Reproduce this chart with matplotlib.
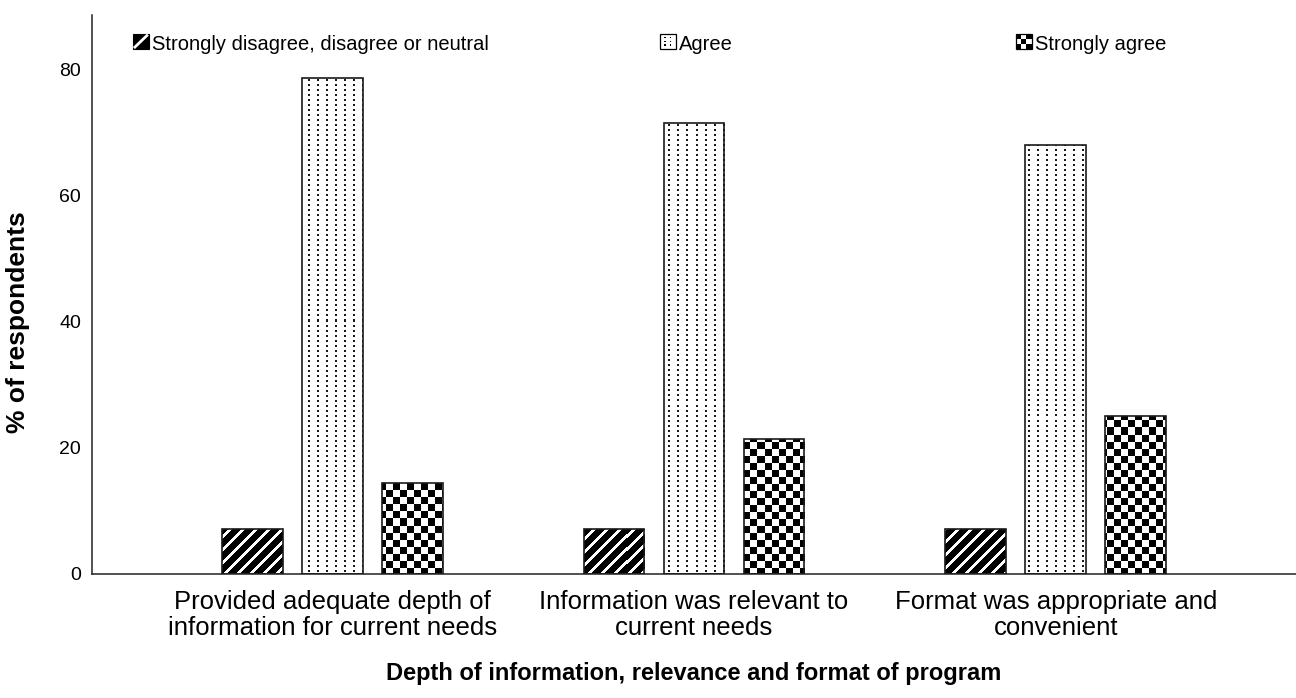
import numpy as np
import matplotlib
matplotlib.use("Agg")
import matplotlib.pyplot as plt
import matplotlib.patches as mpatches
from matplotlib.lines import Line2D

plt.rcParams['font.family'] = ['Liberation Sans', 'DejaVu Sans']

# ---------------- data ----------------
categories = ["Provided adequate depth of\ninformation for current needs",
              "Information was relevant to\ncurrent needs",
              "Format was appropriate and\nconvenient"]
series_names = ["Strongly disagree, disagree or neutral", "Agree", "Strongly agree"]
neutral = [7.1, 7.1, 7.1]
agree = [78.6, 71.4, 67.9]
strongly_agree = [14.3, 21.4, 25.0]
yticks = [0, 20, 40, 60, 80]
xlabel = "Depth of information, relevance and format of program"
ylabel = "% of respondents"

# ---------------- layout ----------------
W_PX, H_PX, DPI = 1296, 698, 100
fig = plt.figure(figsize=(W_PX / DPI, H_PX / DPI), dpi=DPI)
ax_left, ax_right = 92 / W_PX, 1.0
ax_bottom, ax_top = 1 - 573.5 / H_PX, 1 - 15 / H_PX
ax = fig.add_axes([ax_left, ax_bottom, ax_right - ax_left, ax_top - ax_bottom])

XLIM = (-0.664, 2.664)
YLIM = (0, 88.6)
x = np.arange(len(categories))
width = 0.168
step = 0.221

# textures in pixel units covering the axes
ax_w = int(round((ax_right - ax_left) * W_PX))
ax_h = int(round((ax_top - ax_bottom) * H_PX))
rr, cc = np.mgrid[0:ax_h, 0:ax_w]
tex_stripes = np.where(((cc + rr) % 13) < 4, 1.0, 0.0)
tex_dots = np.where(((cc % 9) < 2) & ((rr % 5) < 2), 0.1, 1.0)
tex_checker = np.where(((cc // 7 + rr // 7) % 2) == 0, 0.0, 1.0)

textures = [tex_stripes, tex_dots, tex_checker]
series = [neutral, agree, strongly_agree]
offsets = [-step, 0, step]

for vals, off, tex in zip(series, offsets, textures):
    bars = ax.bar(x + off, vals, width, facecolor='none', edgecolor='#1a1a1a',
                  linewidth=1.2, zorder=3)
    for b in bars:
        im = ax.imshow(tex, extent=(XLIM[0], XLIM[1], YLIM[0], YLIM[1]),
                       origin='upper', cmap='gray', vmin=0, vmax=1,
                       interpolation='nearest', aspect='auto', zorder=2)
        im.set_clip_path(b)

ax.set_xlim(*XLIM)
ax.set_ylim(*YLIM)

# axes styling
for s in ['top', 'right']:
    ax.spines[s].set_visible(False)
for s in ['left', 'bottom']:
    ax.spines[s].set_color('#222222')
    ax.spines[s].set_linewidth(1.1)

ax.set_yticks(yticks)
ax.set_yticklabels([str(v) for v in yticks], fontsize=14)
ax.set_xticks(x)
ax.set_xticklabels(categories, fontsize=18.5, linespacing=1.1)
ax.tick_params(axis='y', length=0, pad=8)
ax.tick_params(axis='x', length=0, pad=12)

ax.set_xlabel(xlabel, fontsize=17, fontweight='bold', labelpad=16)
ax.set_ylabel(ylabel, fontsize=19, fontweight='bold')
ax.yaxis.set_label_coords(-0.0515, 0.45)

# ---------------- legend ----------------
class IconHandler:
    def __init__(self, kind):
        self.kind = kind

    def legend_artist(self, legend, orig_handle, fontsize, handlebox):
        x0, y0 = handlebox.xdescent, handlebox.ydescent
        w, h = handlebox.width, handlebox.height
        tr = handlebox.get_transform()
        arts = []
        if self.kind == 'stripes':
            arts.append(mpatches.Rectangle((x0, y0), w, h, facecolor='black',
                                           edgecolor='black', lw=0.8, transform=tr))
            arts.append(Line2D([x0 + 0.12 * w, x0 + 0.88 * w],
                               [y0 + 0.12 * h, y0 + 0.88 * h],
                               color='white', lw=2.0, transform=tr))
        elif self.kind == 'dots':
            arts.append(mpatches.Rectangle((x0, y0), w, h, facecolor='white',
                                           edgecolor='black', lw=0.9, transform=tr))
            for fx in (0.33, 0.67):
                for fy in (0.25, 0.5, 0.75):
                    arts.append(mpatches.Rectangle((x0 + fx * w - 0.05 * w, y0 + fy * h - 0.05 * h),
                                                   0.1 * w, 0.1 * h, facecolor='black',
                                                   edgecolor='none', transform=tr))
        else:
            arts.append(mpatches.Rectangle((x0, y0), w, h, facecolor='white',
                                           edgecolor='black', lw=0.9, transform=tr))
            n = 3
            for i in range(n):
                for j in range(n):
                    if (i + j) % 2 == 0:
                        arts.append(mpatches.Rectangle((x0 + i * w / n, y0 + j * h / n),
                                                       w / n, h / n, facecolor='black',
                                                       edgecolor='none', transform=tr))
        for a in arts:
            handlebox.add_artist(a)
        return arts[0]

kinds = ['stripes', 'dots', 'checker']
icon_left_px = [133, 660, 1016]
legend_y = 1 - 44 / H_PX
for name, kind, lx in zip(series_names, kinds, icon_left_px):
    h = mpatches.Patch()
    leg = fig.legend([h], [name], handler_map={h: IconHandler(kind)},
                     loc='center left', bbox_to_anchor=(lx / W_PX, legend_y),
                     bbox_transform=fig.transFigure, frameon=False,
                     fontsize=14.5, handlelength=0.78, handleheight=0.78,
                     handletextpad=0.15, borderpad=0, borderaxespad=0)

fig.savefig("out.png", dpi=DPI)
